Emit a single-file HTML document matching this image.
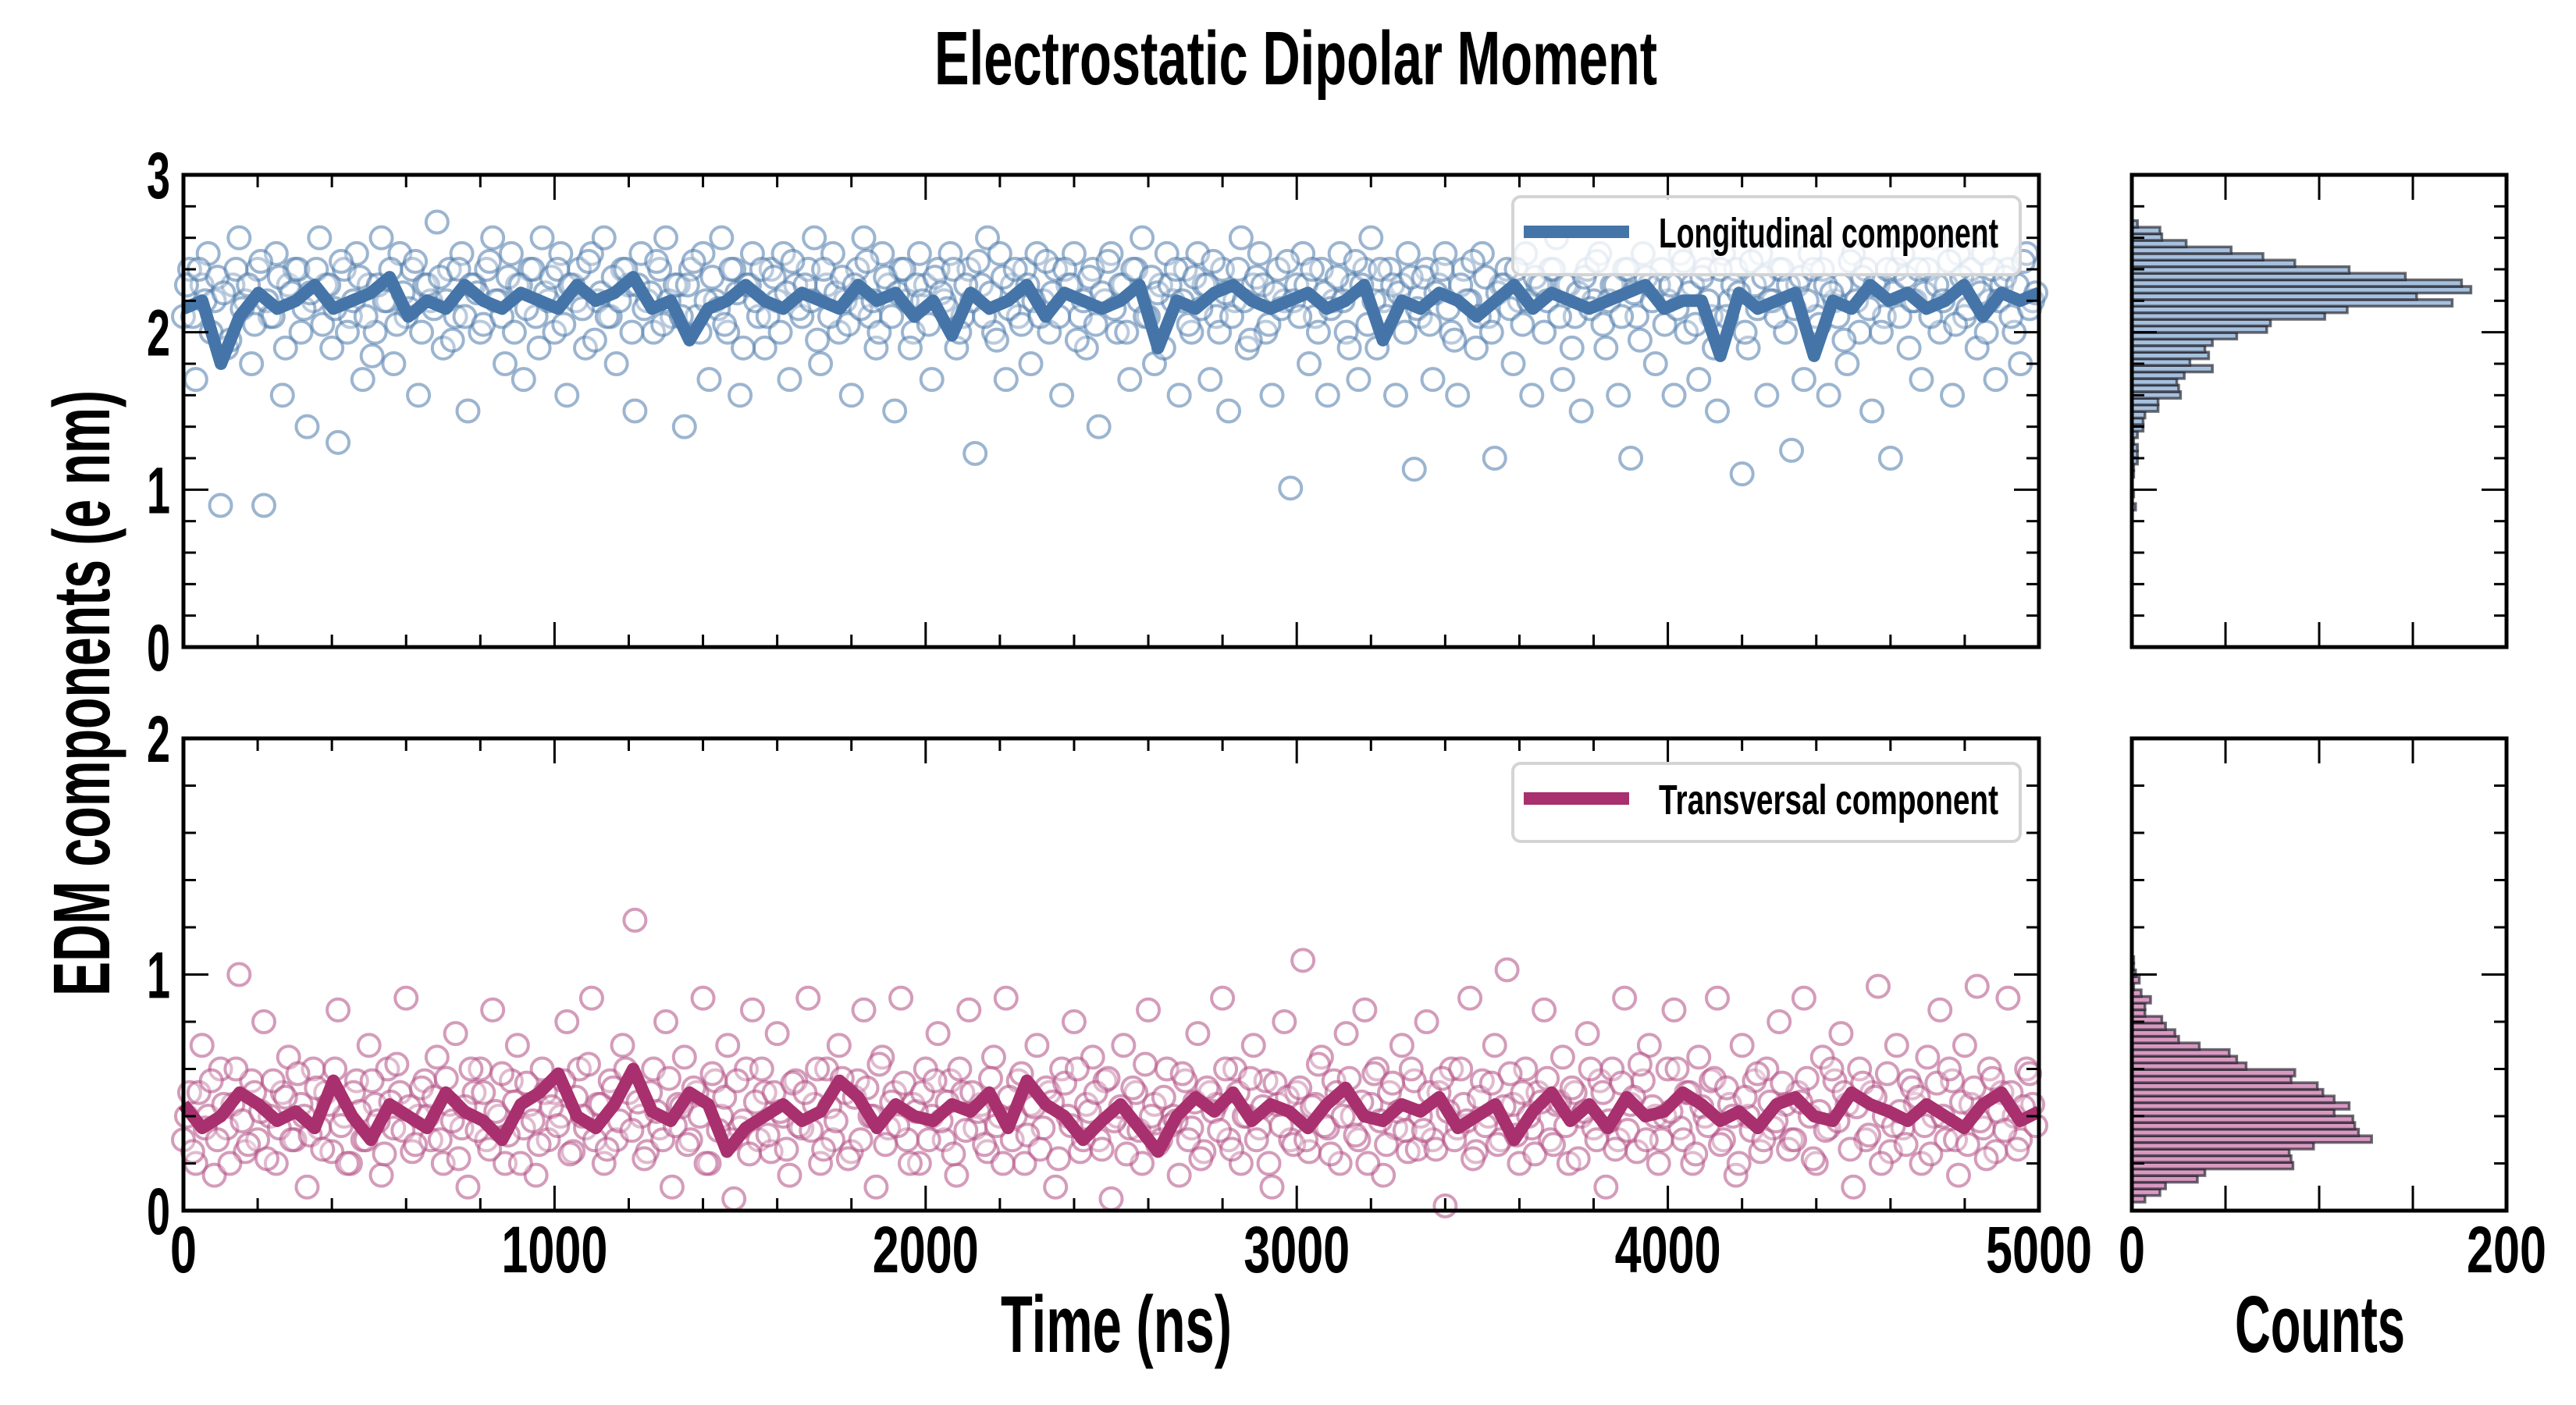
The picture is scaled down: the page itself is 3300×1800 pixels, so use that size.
<!DOCTYPE html>
<html><head><meta charset="utf-8"><style>
html,body{margin:0;padding:0;background:#fff}
svg{display:block}
text{font-family:"Liberation Sans Narrow","Liberation Sans",sans-serif;font-weight:bold;fill:#000}
</style></head><body>
<svg id="chart" width="3300" height="1800" viewBox="0 0 3300 1800" xmlns="http://www.w3.org/2000/svg">
<text x="1660" y="108" font-size="97" text-anchor="middle" textLength="926" lengthAdjust="spacingAndGlyphs">Electrostatic Dipolar Moment</text>
<text transform="translate(140,888) rotate(-90)" font-size="103" text-anchor="middle" textLength="776" lengthAdjust="spacingAndGlyphs">EDM components (e nm)</text>
<text x="1430" y="1732" font-size="103" text-anchor="middle" textLength="296" lengthAdjust="spacingAndGlyphs">Time (ns)</text>
<text x="2972" y="1732" font-size="103" text-anchor="middle" textLength="218" lengthAdjust="spacingAndGlyphs">Counts</text>
<g id="layer"></g>
</svg>
<script>
const topValues=[2.1,2.4,1.7,2.3,2.5,2.2,0.9,1.9,2.3,2.6,2.2,1.8,2.4,0.9,2.1,2.5,1.6,2.3,2.4,2.0,
1.4,2.2,2.6,2.3,1.9,1.3,2.4,2.1,2.5,1.7,2.3,2.0,2.6,2.2,1.8,2.5,2.1,2.4,1.6,2.3,
2.2,2.7,1.9,2.4,2.1,2.5,1.5,2.3,2.0,2.4,2.6,2.2,1.8,2.5,2.3,1.7,2.4,2.1,2.6,2.2,
2.0,2.5,1.6,2.3,2.4,1.9,2.5,2.2,2.6,2.1,1.8,2.4,2.3,1.5,2.5,2.2,2.0,2.4,2.6,2.1,
2.3,1.4,2.4,2.1,2.5,1.7,2.2,2.6,2.0,2.4,1.6,2.3,2.5,2.1,1.9,2.4,2.2,2.5,1.7,2.3,
2.1,2.4,2.6,1.8,2.3,2.5,2.0,2.2,1.6,2.4,2.6,2.1,1.9,2.5,2.3,1.5,2.4,2.2,2.0,2.5,
2.3,1.7,2.4,2.2,2.5,1.9,2.1,2.4,1.23,2.3,2.6,2.0,2.5,1.7,2.3,2.1,2.4,1.8,2.5,2.2,
2.0,2.4,1.6,2.3,2.5,2.1,1.9,2.4,1.4,2.2,2.5,2.0,2.3,1.7,2.4,2.6,2.1,1.8,2.3,2.5,
2.2,1.6,2.4,2.0,2.5,2.3,1.7,2.1,2.4,1.5,2.2,2.6,1.9,2.3,2.5,2.0,1.6,2.4,2.2,1.01,
2.3,2.5,1.8,2.1,2.4,1.6,2.2,2.5,2.0,2.3,1.7,2.4,2.6,1.9,2.2,2.4,1.6,2.3,2.5,1.13,
2.1,2.4,1.7,2.3,2.5,2.0,1.6,2.4,2.2,1.9,2.5,2.1,1.2,2.3,2.4,1.8,2.2,2.5,1.6,2.3,
2.0,2.4,2.6,1.7,2.3,2.1,1.5,2.4,2.2,2.5,1.9,2.3,1.6,2.4,1.2,2.1,2.5,2.3,1.8,2.4,
2.2,1.6,2.5,2.0,2.3,1.7,2.4,2.1,1.5,2.5,2.2,2.4,1.1,1.9,2.3,2.5,1.6,2.2,2.4,2.0,
1.25,2.3,1.7,2.5,2.1,2.4,1.6,2.2,2.3,1.8,2.5,2.0,2.4,1.5,2.3,2.1,1.2,2.4,2.5,1.9,
2.2,1.7,2.4,2.6,2.0,2.3,1.6,2.5,2.1,2.4,1.9,2.5,2.2,1.7,2.3,2.4,2.0,1.8,2.5,2.2];
const topValuesB=[2.3,2.1,2.4,2.2,2.0,2.35,2.25,1.95,2.4,2.15,2.3,2.05,2.45,2.2,2.1,2.35,1.9,2.25,2.4,2.15,
2.25,2.4,2.05,2.3,2.15,2.45,2.0,2.2,2.35,2.1,1.85,2.3,2.2,2.4,2.05,2.25,2.15,2.45,2.0,2.3,
2.15,2.35,2.2,1.95,2.4,2.1,2.3,2.25,2.05,2.45,2.2,2.1,2.35,2.0,2.3,2.15,2.4,1.9,2.25,2.35,
2.4,2.05,2.3,2.2,2.15,2.45,1.95,2.25,2.1,2.35,2.2,2.4,2.0,2.3,2.15,2.25,2.45,2.05,2.2,2.3,
2.1,2.3,2.45,2.0,2.2,2.35,2.15,2.05,2.4,2.25,1.9,2.3,2.2,2.4,2.1,2.35,2.0,2.25,2.45,2.15,
2.3,2.2,1.95,2.4,2.1,2.25,2.35,2.05,2.3,2.15,2.45,2.2,2.0,2.35,2.1,2.25,2.4,1.9,2.3,2.2,
2.05,2.35,2.25,2.15,2.4,2.0,2.3,2.2,2.45,2.1,2.25,1.95,2.35,2.15,2.4,2.05,2.3,2.2,2.1,2.45,
2.25,2.1,2.4,2.3,1.95,2.2,2.35,2.05,2.25,2.45,2.15,2.3,2.0,2.4,2.2,2.1,2.35,2.25,1.9,2.3,
2.4,2.2,2.05,2.35,2.15,2.3,2.45,2.0,2.25,2.1,2.4,2.2,1.95,2.35,2.3,2.05,2.25,2.15,2.45,2.2,
2.1,2.3,2.4,2.0,2.25,2.15,2.35,2.2,1.9,2.45,2.3,2.05,2.2,2.4,2.1,2.3,2.25,2.0,2.35,2.15,
2.35,2.05,2.25,2.4,2.15,1.95,2.3,2.2,2.45,2.1,2.35,2.0,2.25,2.3,2.15,2.4,2.05,2.2,2.35,2.3,
2.2,2.4,2.1,2.3,1.9,2.25,2.35,2.15,2.45,2.05,2.2,2.3,2.1,2.4,2.25,1.95,2.35,2.2,2.3,2.05,
2.3,2.15,2.45,2.25,2.05,2.35,2.2,1.9,2.4,2.1,2.3,2.25,2.0,2.45,2.15,2.35,2.2,2.1,2.4,2.3,
2.15,2.35,2.2,2.4,2.05,2.3,2.25,2.1,1.95,2.45,2.2,2.35,2.15,2.3,2.0,2.4,2.25,2.1,2.35,2.2,
2.4,2.25,2.1,2.3,2.2,2.45,2.05,2.35,2.15,2.3,2.25,2.0,2.4,2.2,2.35,2.1,2.3,2.45,2.15,2.25];
const bottomValues=[0.3,0.5,0.2,0.7,0.4,0.15,0.6,0.35,0.45,1.0,0.25,0.55,0.3,0.8,0.4,0.2,0.5,0.65,0.3,0.45,
0.1,0.6,0.35,0.5,0.25,0.85,0.4,0.2,0.55,0.3,0.7,0.45,0.15,0.6,0.35,0.5,0.9,0.25,0.4,0.55,
0.3,0.65,0.2,0.45,0.75,0.35,0.1,0.5,0.6,0.3,0.85,0.4,0.2,0.55,0.7,0.35,0.45,0.15,0.6,0.3,
0.5,0.4,0.8,0.25,0.6,0.35,0.9,0.45,0.2,0.55,0.3,0.7,0.5,1.23,0.4,0.25,0.6,0.35,0.8,0.1,
0.45,0.65,0.3,0.5,0.9,0.2,0.55,0.4,0.7,0.05,0.35,0.6,0.85,0.3,0.5,0.25,0.75,0.4,0.15,0.55,
0.35,0.9,0.45,0.2,0.6,0.3,0.7,0.5,0.25,0.55,0.85,0.4,0.1,0.65,0.35,0.5,0.9,0.3,0.45,0.2,
0.6,0.4,0.75,0.3,0.55,0.15,0.5,0.85,0.35,0.45,0.25,0.65,0.4,0.9,0.3,0.55,0.2,0.45,0.7,0.35,
0.5,0.1,0.6,0.4,0.8,0.25,0.45,0.65,0.3,0.55,0.05,0.4,0.7,0.35,0.5,0.2,0.85,0.45,0.3,0.6,
0.4,0.15,0.55,0.35,0.75,0.25,0.5,0.45,0.9,0.3,0.6,0.2,0.4,0.7,0.35,0.55,0.1,0.45,0.8,0.3,
0.5,1.06,0.25,0.45,0.65,0.35,0.55,0.2,0.75,0.4,0.3,0.85,0.45,0.6,0.15,0.5,0.35,0.7,0.25,0.55,
0.4,0.8,0.3,0.5,0.02,0.6,0.35,0.45,0.9,0.25,0.55,0.4,0.7,0.3,1.02,0.45,0.2,0.6,0.35,0.5,
0.85,0.3,0.45,0.65,0.2,0.5,0.4,0.75,0.35,0.55,0.1,0.6,0.3,0.9,0.45,0.25,0.55,0.7,0.4,0.3,
0.6,0.85,0.35,0.5,0.2,0.65,0.4,0.55,0.9,0.3,0.45,0.15,0.7,0.4,0.55,0.25,0.6,0.35,0.8,0.45,
0.3,0.5,0.9,0.4,0.2,0.65,0.35,0.55,0.75,0.45,0.1,0.6,0.3,0.5,0.95,0.4,0.25,0.7,0.35,0.55,
0.45,0.2,0.65,0.4,0.85,0.3,0.55,0.15,0.7,0.45,0.95,0.35,0.6,0.25,0.5,0.9,0.4,0.3,0.6,0.45];
const bottomValuesB=[0.4,0.25,0.5,0.35,0.55,0.3,0.45,0.2,0.6,0.38,0.28,0.5,0.42,0.22,0.55,0.35,0.48,0.3,0.58,0.4,
0.32,0.52,0.26,0.45,0.6,0.36,0.2,0.5,0.42,0.3,0.55,0.38,0.24,0.46,0.62,0.34,0.44,0.28,0.52,0.4,
0.48,0.3,0.56,0.38,0.22,0.44,0.6,0.34,0.5,0.26,0.42,0.58,0.32,0.46,0.2,0.54,0.38,0.28,0.5,0.44,
0.36,0.55,0.24,0.48,0.4,0.62,0.3,0.45,0.26,0.52,0.38,0.6,0.34,0.46,0.22,0.5,0.42,0.3,0.56,0.36,
0.44,0.28,0.52,0.4,0.2,0.58,0.34,0.48,0.3,0.55,0.38,0.24,0.46,0.6,0.32,0.5,0.42,0.26,0.54,0.36,
0.5,0.34,0.6,0.26,0.44,0.38,0.56,0.22,0.48,0.3,0.52,0.4,0.62,0.28,0.46,0.36,0.54,0.2,0.42,0.5,
0.3,0.55,0.38,0.46,0.24,0.6,0.34,0.5,0.42,0.28,0.56,0.36,0.2,0.48,0.4,0.58,0.32,0.44,0.26,0.52,
0.46,0.22,0.54,0.36,0.6,0.3,0.42,0.5,0.26,0.56,0.38,0.44,0.24,0.52,0.34,0.62,0.4,0.28,0.48,0.36,
0.38,0.58,0.3,0.46,0.22,0.52,0.42,0.34,0.6,0.26,0.5,0.4,0.56,0.3,0.44,0.2,0.54,0.36,0.48,0.28,
0.52,0.3,0.44,0.62,0.36,0.24,0.5,0.4,0.56,0.32,0.46,0.2,0.58,0.38,0.28,0.54,0.42,0.34,0.6,0.26,
0.34,0.5,0.26,0.56,0.42,0.3,0.6,0.38,0.22,0.48,0.36,0.54,0.28,0.44,0.58,0.32,0.5,0.4,0.24,0.46,
0.56,0.28,0.46,0.36,0.52,0.22,0.42,0.6,0.3,0.5,0.38,0.26,0.54,0.34,0.48,0.62,0.3,0.44,0.2,0.4,
0.42,0.6,0.3,0.5,0.24,0.44,0.36,0.56,0.28,0.52,0.4,0.2,0.48,0.34,0.58,0.3,0.46,0.38,0.54,0.26,
0.3,0.46,0.56,0.22,0.42,0.34,0.6,0.38,0.5,0.26,0.44,0.54,0.32,0.48,0.2,0.58,0.36,0.42,0.28,0.52,
0.48,0.36,0.24,0.54,0.4,0.6,0.3,0.46,0.28,0.52,0.38,0.22,0.56,0.42,0.34,0.5,0.26,0.44,0.58,0.36];
const topLine=[2.15,2.2,1.8,2.1,2.25,2.15,2.2,2.3,2.15,2.2,2.25,2.35,2.1,2.2,2.15,2.3,2.2,2.15,2.25,2.2,
2.15,2.3,2.2,2.25,2.35,2.15,2.2,1.95,2.15,2.2,2.3,2.2,2.15,2.25,2.2,2.15,2.3,2.2,2.25,2.1,
2.2,1.98,2.25,2.15,2.2,2.3,2.1,2.25,2.2,2.15,2.2,2.3,1.9,2.2,2.15,2.25,2.3,2.2,2.15,2.2,
2.25,2.15,2.2,2.3,1.95,2.2,2.15,2.25,2.2,2.1,2.2,2.3,2.15,2.25,2.2,2.15,2.2,2.25,2.3,2.15,
2.2,2.2,1.85,2.25,2.15,2.2,2.25,1.85,2.2,2.15,2.3,2.2,2.25,2.15,2.2,2.3,2.1,2.25,2.2,2.25];
const bottomLine=[0.45,0.35,0.4,0.5,0.45,0.38,0.42,0.35,0.55,0.4,0.3,0.45,0.4,0.35,0.5,0.42,0.38,0.3,0.45,0.5,
0.58,0.4,0.35,0.45,0.6,0.42,0.38,0.5,0.45,0.25,0.35,0.4,0.45,0.38,0.42,0.55,0.48,0.35,0.45,0.4,
0.38,0.45,0.42,0.5,0.35,0.55,0.45,0.4,0.3,0.38,0.45,0.35,0.25,0.4,0.48,0.42,0.5,0.38,0.45,0.42,
0.35,0.45,0.52,0.4,0.38,0.45,0.42,0.48,0.35,0.4,0.45,0.3,0.42,0.5,0.38,0.45,0.35,0.48,0.4,0.42,
0.5,0.45,0.38,0.42,0.35,0.45,0.48,0.4,0.38,0.5,0.45,0.42,0.38,0.45,0.4,0.35,0.45,0.5,0.38,0.42];
const topHistCounts=[2,0,1,0,0,1,1,3,3,3,1,3,6,6,7,14,14,26,25,24,28,43,31,41,39,43,56,72,74,103,115,171,152,181,176,146,116,87,70,53,29,16,15,3];
const topHistStart=0.87, topHistBin=0.0418;
const bottomHistCounts=[7,15,18,35,39,86,85,84,97,128,121,119,118,108,116,108,102,99,85,87,61,56,52,36,25,23,18,16,7,7,10,5,1,4,2,1,1];
const bottomHistStart=0.036, bottomHistBin=0.0281;
const xTicks=[0,1000,2000,3000,4000,5000];
const topYTicks=[0,1,2,3];
const bottomYTicks=[0,1,2];
const histTickLabels=[0,200];

const NS='http://www.w3.org/2000/svg';
const layer=document.getElementById('layer');
function mk(tag,attrs,parent){const e=document.createElementNS(NS,tag);for(const k in attrs)e.setAttribute(k,attrs[k]);(parent||layer).appendChild(e);return e;}
const L=235,R=2612,HL=2731,HR=3211;
const P1={top:224,bot:829,max:3},P2={top:946,bot:1551,max:2};
const xs=t=>L+(R-L)*t/5000;
const ys=(p,v)=>p.bot-(p.bot-p.top)*v/p.max;
const hx=c=>HL+(HR-HL)*c/200;

function drawFrame(x0,x1,p,name,xmaj,xmin,xmax){
  const g=mk('g',{});
  
  
  for(let v=0;v<=p.max+1e-9;v+=0.2){
    const y=ys(p,v);const major=Math.abs(v-Math.round(v))<1e-6;const len=major?32:16;
    mk('line',{x1:x0,x2:x0+len,y1:y,y2:y,stroke:'#000','stroke-width':3},g);
    mk('line',{x1:x1,x2:x1-len,y1:y,y2:y,stroke:'#000','stroke-width':3},g);
  }
  for(let v=0;v<=xmax+1e-9;v+=xmin){
    const x=x0+(x1-x0)*v/xmax;const major=Math.abs(v/xmaj-Math.round(v/xmaj))<1e-6;const len=major?32:16;
    mk('line',{x1:x,x2:x,y1:p.bot,y2:p.bot-len,stroke:'#000','stroke-width':3},g);
    mk('line',{x1:x,x2:x,y1:p.top,y2:p.top+len,stroke:'#000','stroke-width':3},g);
  }
  mk('rect',{x:x0,y:p.top,width:x1-x0,height:p.bot-p.top,fill:'none',stroke:'#000','stroke-width':5},g);
}
function scatter(vals,p,color,name,offset){
  const g=mk('g',{});
  
  
  const step=5000/vals.length;
  vals.forEach((v,i)=>{
    const c=mk('circle',{cx:xs(Math.min(5000,(i+offset)*step)),cy:ys(p,v),r:14,fill:'rgba(255,255,255,0.3)',stroke:color,'stroke-opacity':0.55,'stroke-width':4},g);
    
    
  });
}
function line(vals,p,color,name){
  const d=vals.map((v,i)=>(i?'L':'M')+xs(i*5000/(vals.length-1)).toFixed(1)+','+ys(p,v).toFixed(1)).join('');
  const e=mk('path',{d:d,fill:'none',stroke:color,'stroke-width':16,'stroke-linejoin':'round'});
  
  
}
function hist(counts,start,bin,p,fill,name){
  const g=mk('g',{});
  
  
  counts.forEach((c,i)=>{
    if(c<=0)return;
    const y0=ys(p,start+(i+1)*bin),y1=ys(p,start+i*bin);
    const r=mk('rect',{x:HL,y:y0,width:hx(c)-HL,height:y1-y0,fill:fill,stroke:'rgba(30,30,40,0.65)','stroke-width':3.5},g);
    
    
  });
}
function label(x,y,txt,anchor,len,name){
  const t=mk('text',{x:x,y:y,'font-size':84,'text-anchor':anchor,textLength:len,lengthAdjust:'spacingAndGlyphs'});
  t.textContent=txt;
  
  
}
scatter(topValues,P1,'#4a78aa','longitudinal-scatter',0);
scatter(topValuesB,P1,'#4a78aa','longitudinal-scatter-b',0.5);
line(topLine,P1,'#4575a8','longitudinal-line');
scatter(bottomValues,P2,'#b04a82','transversal-scatter',0);
scatter(bottomValuesB,P2,'#b04a82','transversal-scatter-b',0.5);
line(bottomLine,P2,'#a8306e','transversal-line');
hist(topHistCounts,topHistStart,topHistBin,P1,'#a6c0dd','longitudinal-histogram');
hist(bottomHistCounts,bottomHistStart,bottomHistBin,P2,'#d899c1','transversal-histogram');
drawFrame(L,R,P1,'top-axes',1000,200,5000);
drawFrame(L,R,P2,'bottom-axes',1000,200,5000);
drawFrame(HL,HR,P1,'top-hist-axes',50,50,200);
drawFrame(HL,HR,P2,'bottom-hist-axes',50,50,200);
topYTicks.forEach(v=>label(218,ys(P1,v)+30,String(v),'end',30,'top-y-tick-label'));
bottomYTicks.forEach(v=>label(218,ys(P2,v)+30,String(v),'end',30,'bottom-y-tick-label'));
xTicks.forEach(v=>{const s=String(v);label(xs(v),1630,s,'middle',s.length*34,'x-tick-label');});
histTickLabels.forEach(v=>{const s=String(v);label(hx(v),1630,s,'middle',s.length*34,'hist-x-tick-label');});
function legend(y,color,txt,name){
  const g=mk('g',{});
  
  
  mk('rect',{x:1938,y:y,width:650,height:100,rx:10,fill:'rgba(255,255,255,0.8)',stroke:'#d4d4d4','stroke-width':4},g);
  mk('line',{x1:1952,x2:2087,y1:y+45,y2:y+45,stroke:color,'stroke-width':16},g);
  const t=mk('text',{x:2125,y:y+65,'font-size':54,textLength:435,lengthAdjust:'spacingAndGlyphs'},g);
  t.textContent=txt;
}
legend(252,'#4575a8','Longitudinal component','legend-longitudinal');
legend(978,'#a8306e','Transversal component','legend-transversal');
</script>
</body></html>
